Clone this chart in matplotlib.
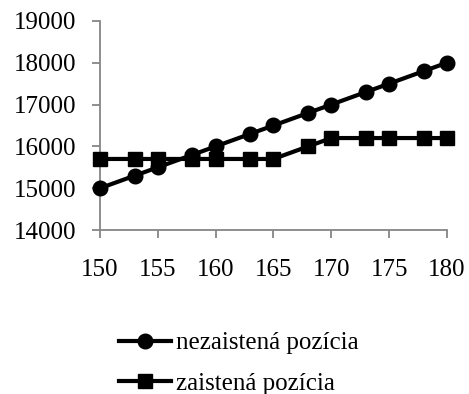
import matplotlib
matplotlib.use("Agg")
import matplotlib.pyplot as plt

x = [150, 153, 155, 158, 160, 163, 165, 168, 170, 173, 175, 178, 180]
nezaistena = [15000, 15300, 15500, 15800, 16000, 16300, 16500, 16800, 17000, 17300, 17500, 17800, 18000]
zaistena = [15700, 15700, 15700, 15700, 15700, 15700, 15700, 16000, 16200, 16200, 16200, 16200, 16200]
labels = ["nezaistená pozícia", "zaistená pozícia"]
xticks = [150, 155, 160, 165, 170, 175, 180]
yticks = [14000, 15000, 16000, 17000, 18000, 19000]

plt.rcParams['font.family'] = ['Liberation Serif', 'DejaVu Serif']
fig = plt.figure(figsize=(4.69, 3.94), dpi=100)
ax = fig.add_axes([0.213, 0.416, 0.740, 0.531])

ax.plot(x, nezaistena, color='black', lw=3, marker='o', markersize=10.5, label=labels[0], clip_on=False, zorder=3)
ax.plot(x, zaistena, color='black', lw=3, marker='s', markersize=9.5, label=labels[1], clip_on=False, zorder=3)

ax.set_xlim(150, 180)
ax.set_ylim(14000, 19000)
ax.set_xticks(xticks)
ax.set_yticks(yticks)
for s in ['top', 'right']:
    ax.spines[s].set_visible(False)
for s in ['left', 'bottom']:
    ax.spines[s].set_color('#868686')
    ax.spines[s].set_linewidth(1.3)
ax.tick_params(axis='both', colors='#868686', length=6, width=1.3, labelsize=18, labelcolor='black')
ax.tick_params(axis='x', pad=15)
ax.tick_params(axis='y', pad=11)

leg = fig.legend(loc='center left', bbox_to_anchor=(0.232, 0.078), frameon=False,
                 fontsize=18, handlelength=2.1, handletextpad=0.2, labelspacing=0.72,
                 borderaxespad=0)
fig.savefig("out.png", dpi=100)
